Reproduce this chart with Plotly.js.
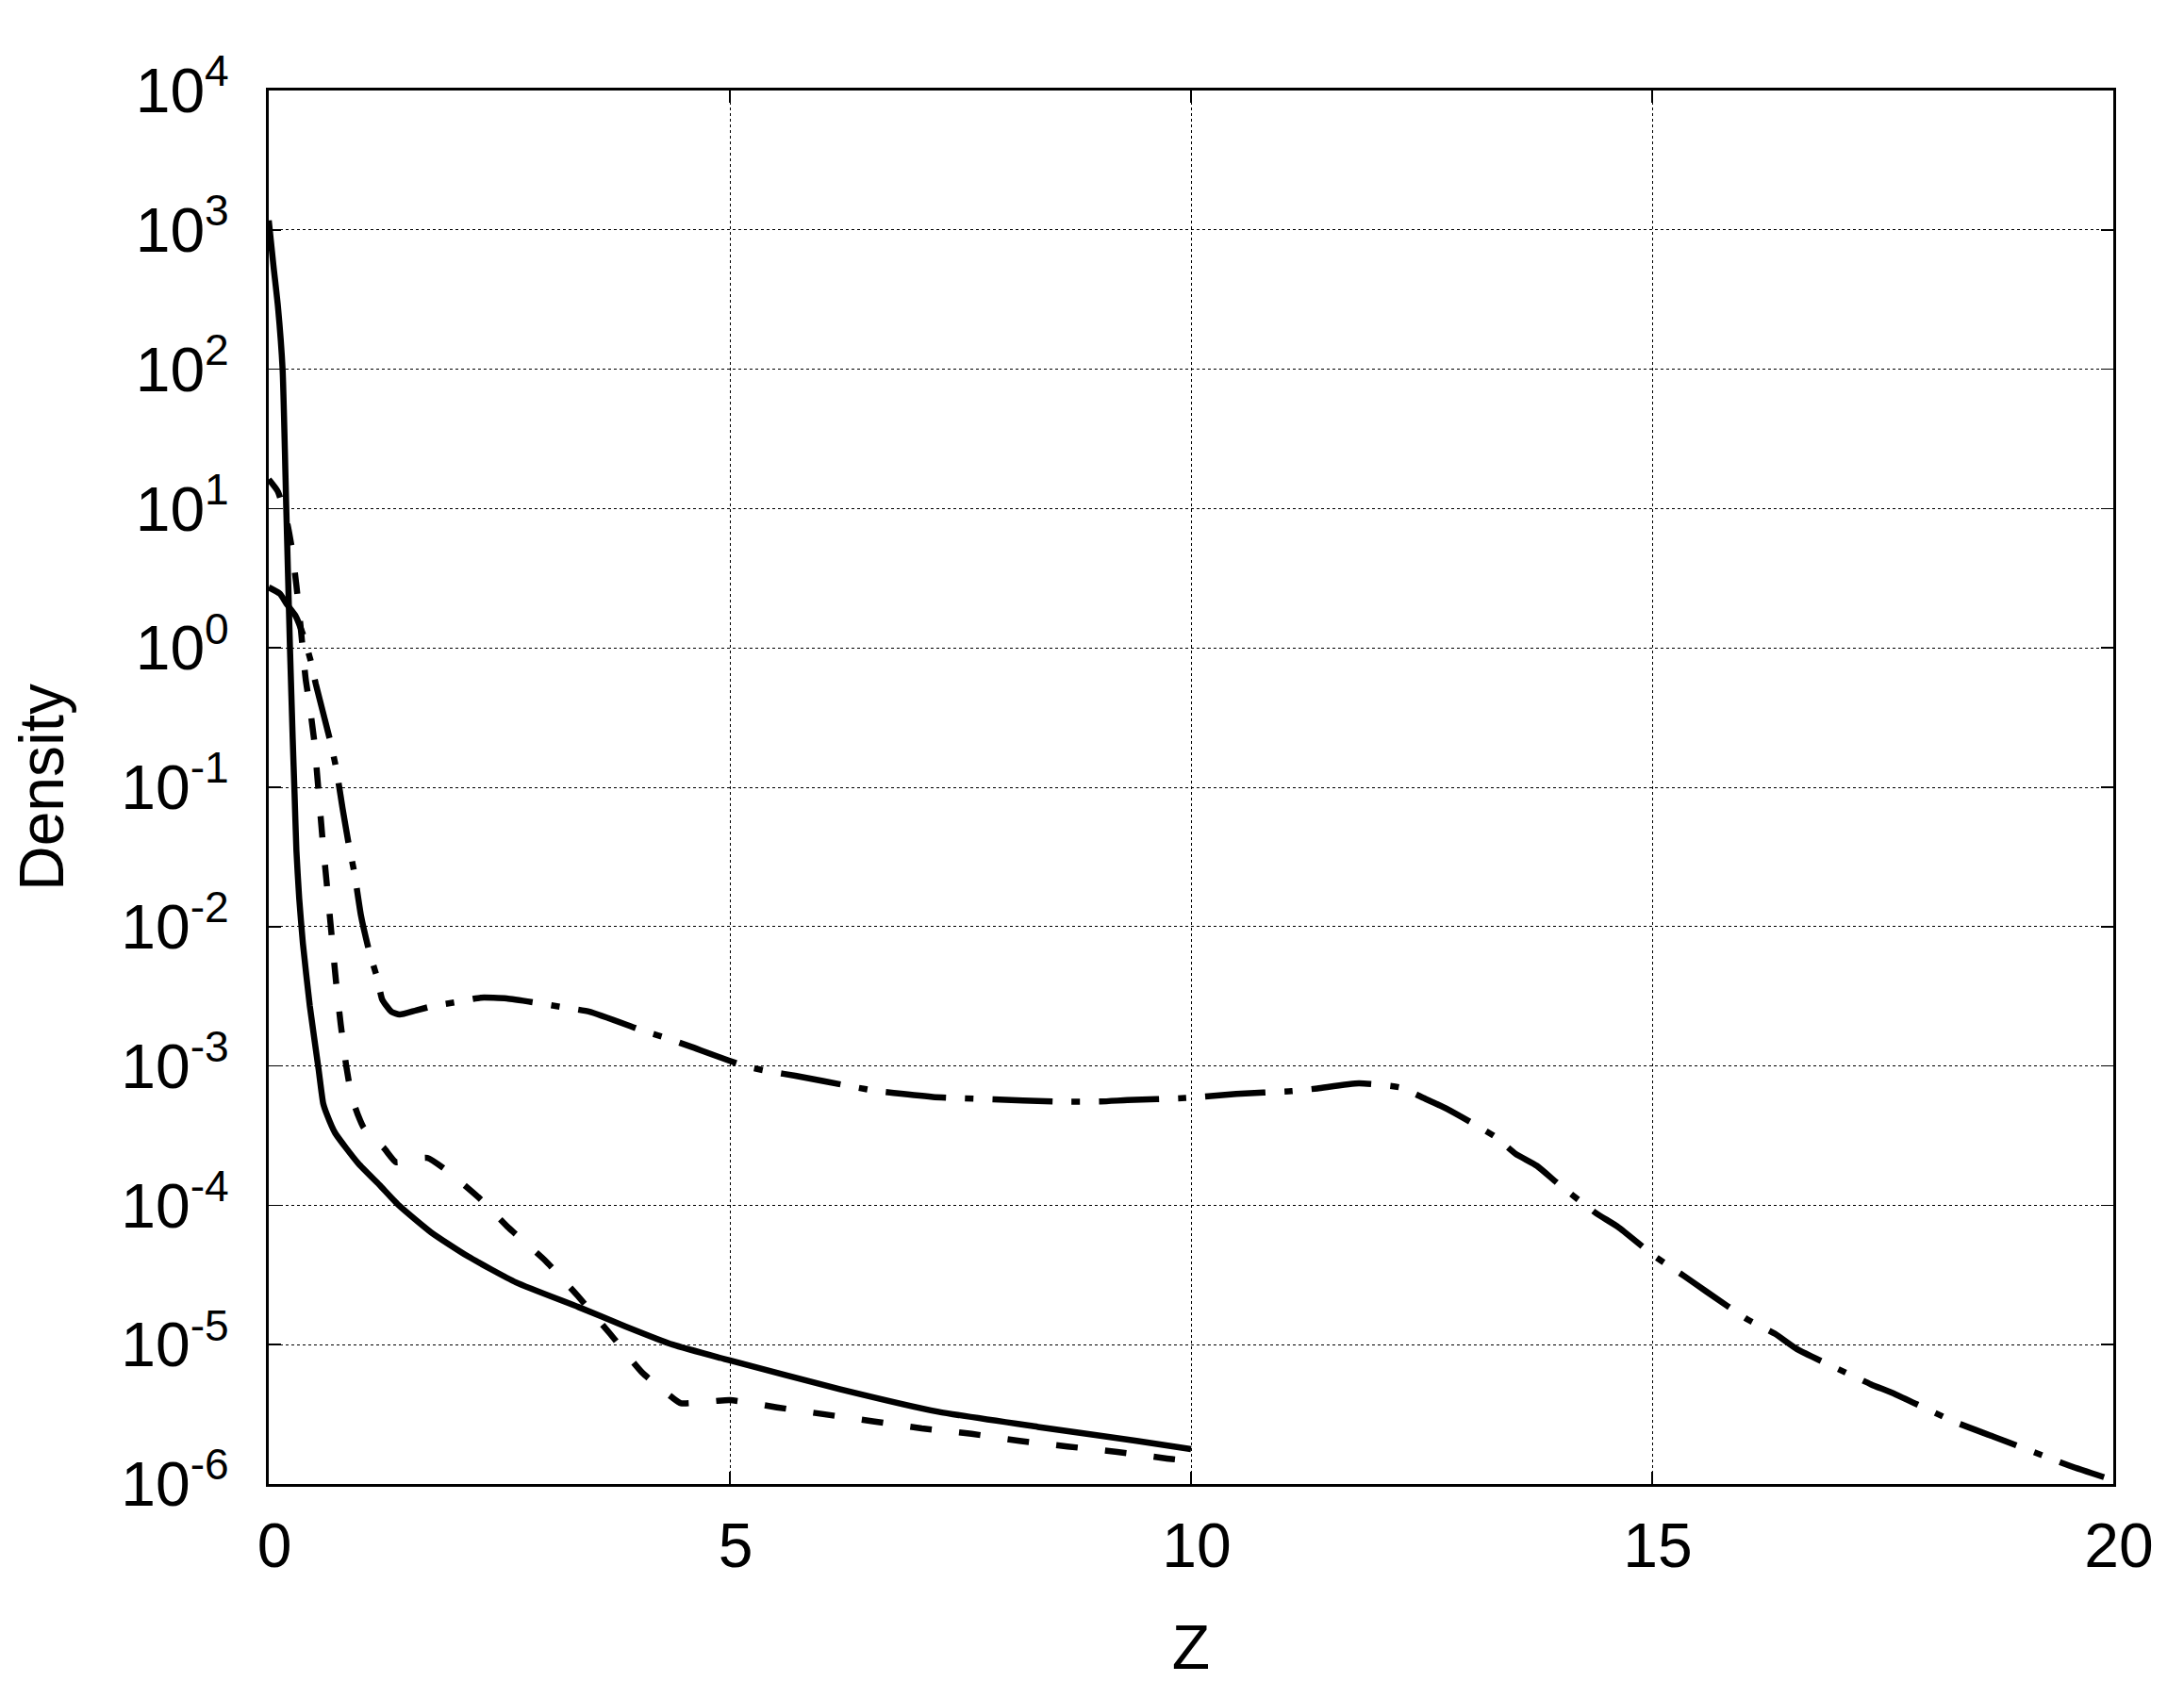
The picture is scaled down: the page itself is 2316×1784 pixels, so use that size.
<!DOCTYPE html>
<html>
<head>
<meta charset="utf-8">
<script src="https://cdn.plot.ly/plotly-3.0.1.min.js"></script>
<style>
  html, body { margin: 0; padding: 0; background: #fff; }
  #chart { width: 2316px; height: 1784px; }
</style>
</head>
<body>
<div id="chart"></div>
<script>
// ---- Data ----
// Series 1 (solid line)
const zSolid = [0, 0.05, 0.1, 0.15, 0.19, 0.23, 0.26, 0.28, 0.30, 0.33, 0.37, 0.445, 0.54, 0.59, 0.63, 0.72, 0.97, 1.2, 1.41, 1.76, 2.16, 2.68, 3.36, 3.87, 4.38, 5.0, 6.19, 7.26, 8.34, 9.41, 10];
const densitySolid = [1.17e3, 5.6e2, 2.8e2, 1.0e2, 1.0e1, 1.0, 2.2e-1, 8.9e-2, 3.5e-2, 1.6e-2, 7.6e-3, 2.7e-3, 9.5e-4, 5.4e-4, 4.5e-4, 3.3e-4, 2.0e-4, 1.4e-4, 1.0e-4, 6.4e-5, 4.3e-5, 2.8e-5, 1.86e-5, 1.35e-5, 1.0e-5, 7.7e-6, 4.8e-6, 3.3e-6, 2.57e-6, 2.04e-6, 1.78e-6];

// Series 2 (dashed line)
const zDashed = [0, 0.1, 0.2, 0.25, 0.3, 0.35, 0.4, 0.44, 0.49, 0.53, 0.58, 0.63, 0.68, 0.73, 0.78, 0.84, 0.9, 0.97, 1.03, 1.25, 1.38, 1.55, 1.72, 1.89, 2.13, 2.3, 2.6, 3.0, 3.35, 3.7, 4.05, 4.37, 4.47, 5.0, 5.51, 6.03, 6.55, 7.08, 7.62, 8.14, 8.66, 9.2, 9.72, 10];
const densityDashed = [16.2, 13.2, 7.9, 5.2, 2.8, 1.32, 0.60, 0.40, 0.224, 0.112, 0.0447, 0.020, 0.0089, 0.0040, 0.0020, 0.0010, 6.0e-4, 4.4e-4, 3.6e-4, 2.57e-4, 2.04e-4, 2.14e-4, 2.19e-4, 1.86e-4, 1.38e-4, 1.10e-4, 6.9e-5, 4.0e-5, 2.24e-5, 1.2e-5, 6.3e-6, 4.2e-6, 3.8e-6, 4.0e-6, 3.55e-6, 3.16e-6, 2.82e-6, 2.51e-6, 2.29e-6, 2.04e-6, 1.86e-6, 1.70e-6, 1.53e-6, 1.46e-6];

// Series 3 (dash-dot line)
const zDashDot = [0, 0.12, 0.2, 0.29, 0.375, 0.45, 0.51, 0.66, 0.73, 0.8, 0.87, 0.93, 1.0, 1.09, 1.18, 1.23, 1.33, 1.42, 1.6, 1.78, 2.04, 2.3, 2.58, 2.93, 3.2, 3.48, 4.07, 4.32, 4.57, 5.16, 5.44, 5.71, 6.33, 6.6, 7.2, 7.86, 8.5, 9.02, 9.31, 9.94, 10.49, 11.09, 11.37, 11.82, 12.27, 12.52, 12.78, 13.3, 13.52, 13.75, 13.99, 14.39, 14.63, 15.03, 15.35, 15.59, 16.04, 16.33, 16.57, 17.1, 17.37, 17.64, 18.28, 18.7, 19.53, 19.9];
const densityDashDot = [2.72, 2.45, 2.04, 1.70, 1.23, 0.83, 0.55, 0.224, 0.138, 0.0708, 0.038, 0.024, 0.012, 0.0066, 0.0042, 0.0030, 0.00245, 0.00234, 0.00251, 0.00269, 0.00288, 0.00309, 0.00305, 0.00282, 0.00263, 0.00245, 0.00178, 0.00158, 0.00138, 0.0010, 9.1e-4, 8.5e-4, 7.1e-4, 6.6e-4, 6.0e-4, 5.75e-4, 5.56e-4, 5.56e-4, 5.69e-4, 5.89e-4, 6.3e-4, 6.6e-4, 6.9e-4, 7.5e-4, 7.0e-4, 5.9e-4, 4.9e-4, 3.1e-4, 2.34e-4, 1.92e-4, 1.41e-4, 8.8e-5, 7.0e-5, 4.3e-5, 3.1e-5, 2.4e-5, 1.51e-5, 1.2e-5, 9.3e-6, 6.3e-6, 5.2e-6, 4.4e-6, 2.79e-6, 2.19e-6, 1.35e-6, 1.12e-6];

// Axis ticks
const xTickVals = [0, 5, 10, 15, 20];
const xTickText = ['0', '5', '10', '15', '20'];
const yTickVals = [1e-6, 1e-5, 1e-4, 1e-3, 1e-2, 1e-1, 1e0, 1e1, 1e2, 1e3, 1e4];
const yTickText = ['10<sup>-6</sup>', '10<sup>-5</sup>', '10<sup>-4</sup>', '10<sup>-3</sup>', '10<sup>-2</sup>', '10<sup>-1</sup>', '10<sup>0</sup>', '10<sup>1</sup>', '10<sup>2</sup>', '10<sup>3</sup>', '10<sup>4</sup>'];

const xTitle = 'Z';
const yTitle = 'Density';

// ---- Styling ----
const FONT = '"Liberation Sans", Arial, Helvetica, sans-serif';
const LW = 6.5;

const traces = [
  { x: zSolid, y: densitySolid, type: 'scatter', mode: 'lines',
    line: { color: '#000', width: LW, dash: 'solid', shape: 'spline', smoothing: 0.5 }, name: 'solid' },
  { x: zDashed, y: densityDashed, type: 'scatter', mode: 'lines',
    line: { color: '#000', width: LW, dash: '23px,29px', shape: 'spline', smoothing: 0.5 }, name: 'dashed' },
  { x: zDashDot, y: densityDashDot, type: 'scatter', mode: 'lines',
    line: { color: '#000', width: LW, dash: '64px,20px,9px,20px', shape: 'spline', smoothing: 0.5 }, name: 'dashdot' }
];

const axisCommon = {
  showline: true, linecolor: '#000', linewidth: 3, mirror: 'ticks',
  ticks: 'inside', ticklen: 13, tickwidth: 1.5, tickcolor: '#000',
  showgrid: true, gridcolor: '#000', gridwidth: 1, griddash: '3px,3px',
  zeroline: false,
  tickfont: { family: FONT, size: 66, color: '#000' }
};

const layout = {
  width: 2316, height: 1784,
  margin: { l: 285, r: 75, t: 96, b: 210, pad: 0 },
  paper_bgcolor: '#fff', plot_bgcolor: '#fff',
  showlegend: false,
  font: { family: FONT, color: '#000' },
  xaxis: Object.assign({}, axisCommon, {
    range: [0, 20], tickmode: 'array', tickvals: xTickVals, ticktext: xTickText,
    ticklabelstandoff: 6, ticklabelshift: 6,
    title: { text: xTitle, font: { family: FONT, size: 66, color: '#000' }, standoff: 56 },
    automargin: false
  }),
  yaxis: Object.assign({}, axisCommon, {
    type: 'log', range: [-6, 4], tickmode: 'array', tickvals: yTickVals, ticktext: yTickText,
    ticklabelstandoff: 26,
    title: { text: yTitle, font: { family: FONT, size: 66, color: '#000' }, standoff: 40 },
    automargin: false
  })
};

Plotly.newPlot('chart', traces, layout, { staticPlot: true, displayModeBar: false });
</script>
</body>
</html>
